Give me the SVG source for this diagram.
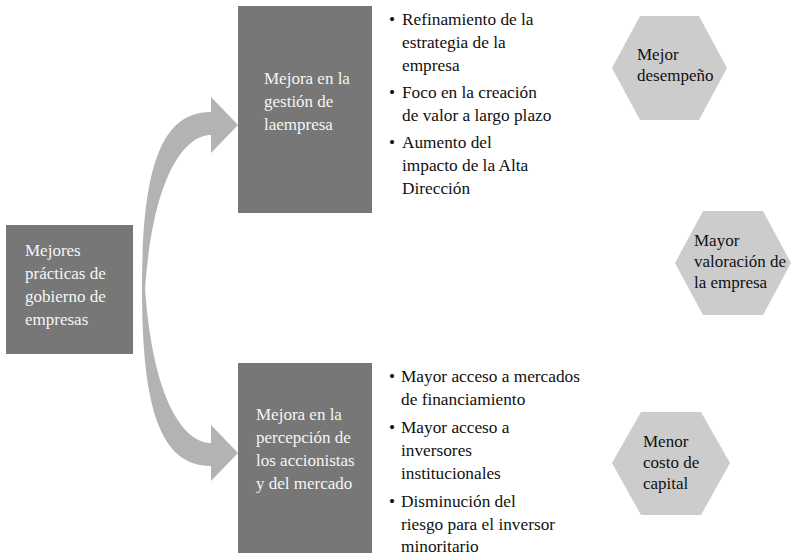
<svg xmlns="http://www.w3.org/2000/svg" width="791" height="560" viewBox="0 0 791 560">
<style>
.box{fill:#777777}
.hex{fill:#cccccc}
.arrow{fill:#b3b3b3}
text{font-family:'Liberation Serif','Times New Roman',Tinos,'DejaVu Serif',serif}
.bt{font-size:17px;fill:#f5f5f5}
.tx{font-size:17.3px;fill:#111111}
.hx{font-size:17px;fill:#111111}
</style>
<rect width="791" height="560" fill="#ffffff"/>
<g id="connectors">
<path class="arrow" d="M142,290 C142,170 160,112 211,112 L211,97 L238,125 L211,153 L211,135 C185,135 153,175 145,290 Z"/>
<path class="arrow" d="M142,288 C142,408 160,466 211,466 L211,481 L238,453 L211,425 L211,443 C185,443 153,403 145,288 Z"/>
</g>
<g id="node-mejores-practicas">
<rect class="box" x="6" y="225" width="127" height="129"/>
<text class="bt" x="25" y="256">Mejores</text>
<text class="bt" x="25" y="279">prácticas de</text>
<text class="bt" x="25" y="302">gobierno de</text>
<text class="bt" x="25" y="325">empresas</text>
</g>
<g id="node-gestion">
<rect class="box" x="238" y="6" width="134" height="207"/>
<text class="bt" x="264" y="84">Mejora en la</text>
<text class="bt" x="264" y="107">gestión de</text>
<text class="bt" x="264" y="130">laempresa</text>
</g>
<g id="node-percepcion">
<rect class="box" x="238" y="363" width="134" height="190"/>
<text class="bt" x="256" y="420">Mejora en la</text>
<text class="bt" x="256" y="443">percepción de</text>
<text class="bt" x="256" y="466">los accionistas</text>
<text class="bt" x="256" y="489">y del mercado</text>
</g>
<g id="list-gestion">
<text class="tx" x="389" y="25">•</text>
<text class="tx" x="402" y="25">Refinamiento de la</text>
<text class="tx" x="402" y="48">estrategia de la</text>
<text class="tx" x="402" y="71">empresa</text>
<text class="tx" x="389" y="98">•</text>
<text class="tx" x="402" y="98">Foco en la creación</text>
<text class="tx" x="402" y="121">de valor a largo plazo</text>
<text class="tx" x="389" y="148">•</text>
<text class="tx" x="402" y="148">Aumento del</text>
<text class="tx" x="402" y="171">impacto de la Alta</text>
<text class="tx" x="402" y="194">Dirección</text>
</g>
<g id="list-percepcion">
<text class="tx" x="389" y="382">•</text>
<text class="tx" x="401" y="382">Mayor acceso a mercados</text>
<text class="tx" x="401" y="405">de financiamiento</text>
<text class="tx" x="389" y="433">•</text>
<text class="tx" x="401" y="433">Mayor acceso a</text>
<text class="tx" x="401" y="456">inversores</text>
<text class="tx" x="401" y="479">institucionales</text>
<text class="tx" x="389" y="507">•</text>
<text class="tx" x="401" y="507">Disminución del</text>
<text class="tx" x="401" y="530">riesgo para el inversor</text>
<text class="tx" x="401" y="552">minoritario</text>
</g>
<g id="node-desempeno">
<polygon class="hex" points="612,68 640,16 699,16 727,68 699,120 640,120"/>
<text class="hx" x="637" y="60">Mejor</text>
<text class="hx" x="637" y="81">desempeño</text>
</g>
<g id="node-valoracion">
<polygon class="hex" points="675,263 703,211 763,211 791,263 763,315 703,315"/>
<text class="hx" x="694" y="246">Mayor</text>
<text class="hx" x="694" y="267">valoración de</text>
<text class="hx" x="694" y="288">la empresa</text>
</g>
<g id="node-costo">
<polygon class="hex" points="612,463 641,412 701,412 730,463 701,515 641,515"/>
<text class="hx" x="643" y="447">Menor</text>
<text class="hx" x="643" y="468">costo de</text>
<text class="hx" x="643" y="489">capital</text>
</g>
</svg>
